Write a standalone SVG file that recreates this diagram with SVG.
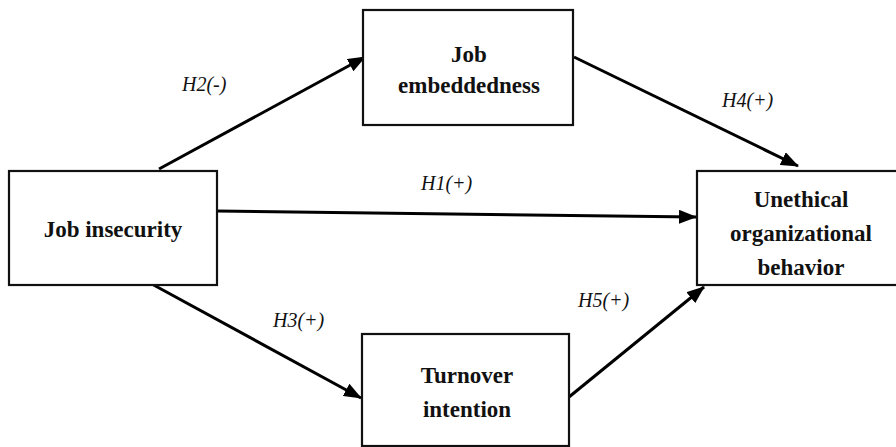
<svg xmlns="http://www.w3.org/2000/svg" width="896" height="447" viewBox="0 0 896 447">
<style>
.box{fill:#fff;stroke:#111;stroke-width:2.2}
.nt{font-family:"Liberation Serif",serif;font-weight:bold;font-size:23px;fill:#111;text-anchor:middle}
.lb{font-family:"Liberation Serif",serif;font-style:italic;font-size:20px;fill:#111}
.ar{stroke:#000;stroke-width:3;fill:none;marker-end:url(#ah)}
</style>
<defs>
<marker id="ah" markerUnits="userSpaceOnUse" markerWidth="18" markerHeight="14" viewBox="0 0 18 14" refX="17" refY="7" orient="auto">
<path d="M0,0 L18,7 L0,14 Z" fill="#000"/>
</marker>
</defs>
<rect width="896" height="447" fill="#fff"/>
<g id="connectors">
<line class="ar" x1="159" y1="169" x2="365" y2="57"/>
<line class="ar" x1="574" y1="57" x2="798" y2="166"/>
<line class="ar" x1="217" y1="211" x2="696" y2="217"/>
<line class="ar" x1="150" y1="283" x2="361" y2="398"/>
<line class="ar" x1="569" y1="397" x2="704" y2="287"/>
</g>
<g id="labels">
<text class="lb" x="182" y="91">H2(-)</text>
<text class="lb" x="722" y="107">H4(+)</text>
<text class="lb" x="421" y="190">H1(+)</text>
<text class="lb" x="273" y="327">H3(+)</text>
<text class="lb" x="578" y="307">H5(+)</text>
</g>
<g id="job-insecurity">
<rect class="box" x="9" y="171" width="208" height="114"/>
<text class="nt" x="113" y="237">Job insecurity</text>
</g>
<g id="job-embeddedness">
<rect class="box" x="363" y="10" width="210" height="115"/>
<text class="nt" x="469" y="62">Job</text>
<text class="nt" x="469" y="93">embeddedness</text>
</g>
<g id="unethical">
<rect class="box" x="697" y="171" width="210" height="114"/>
<text class="nt" x="801" y="207">Unethical</text>
<text class="nt" x="801" y="241">organizational</text>
<text class="nt" x="801" y="275">behavior</text>
</g>
<g id="turnover">
<rect class="box" x="362" y="334" width="207" height="112"/>
<text class="nt" x="467" y="383">Turnover</text>
<text class="nt" x="467" y="417">intention</text>
</g>
</svg>
